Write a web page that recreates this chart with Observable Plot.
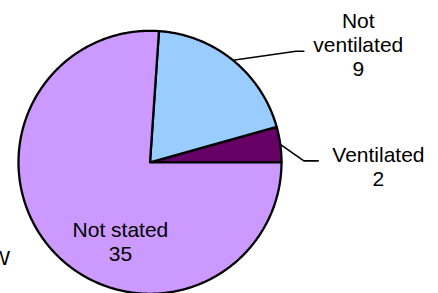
<!DOCTYPE html>
<html><head><meta charset="utf-8">
<script src="https://cdn.jsdelivr.net/npm/d3@7"></script>
<script src="https://cdn.jsdelivr.net/npm/@observablehq/plot@0.6"></script>
<style>body{margin:0;background:#fff}</style>
</head><body><div id="chart"></div>
<script>
// ---- data ----
const categories = ["Ventilated", "Not ventilated", "Not stated"];
const values = [2, 9, 35];
const stray = "W";

// ---- style / layout ----
const colors = ["#660066", "#99CCFF", "#CC99FF"];
// label block centres, in radii from the pie centre (x right, y up)
const labelPos = [[1.737, -0.03], [1.584, 0.90], [-0.225, -0.60]];
// leader-line elbows (radii), null = no leader
const leaders = [[[1.17, 0.011], [1.28, 0.011]], [[1.11, 0.844], [1.17, 0.844]], null];
const W = 438, H = 293, R = 131.5, CX = 149.5, CY = 161.8;

const total = d3.sum(values);
const cum = d3.cumsum(values);
const slices = categories.map((c, i) => {
  const a0 = 2 * Math.PI * (cum[i] - values[i]) / total;
  const a1 = 2 * Math.PI * cum[i] / total;
  const n = Math.max(2, Math.ceil((a1 - a0) / (Math.PI / 360)));
  const pts = [{x: 0, y: 0}];
  for (let k = 0; k <= n; ++k) {
    const a = a0 + (a1 - a0) * k / n;
    pts.push({x: Math.cos(a), y: Math.sin(a)});
  }
  pts.push({x: 0, y: 0});
  return {c, i, a0, a1, pts};
});

const marks = [];
slices.forEach(s => {
  marks.push(Plot.line(s.pts, {x: "x", y: "y", fill: colors[s.i], stroke: "black", strokeWidth: 2.3, strokeLinejoin: "round", curve: "linear"}));
});
slices.forEach(s => {
  if (!leaders[s.i]) return;
  const m = (s.a0 + s.a1) / 2;
  const pts = [{x: Math.cos(m), y: Math.sin(m)}, ...leaders[s.i].map(([x, y]) => ({x, y}))];
  marks.push(Plot.line(pts, {x: "x", y: "y", stroke: "black", strokeWidth: 1.6}));
});
const labels = slices.map(s => ({x: labelPos[s.i][0], y: labelPos[s.i][1], text: s.c + "\n" + values[s.i]}));
marks.push(Plot.text(labels, {x: "x", y: "y", text: d => d.text.replace("Not ventilated", "Not\nventilated"), fontSize: 21, fontFamily: "Liberation Sans, Arial, sans-serif", lineAnchor: "middle", lineHeight: 1.14, fill: "black"}));
marks.push(Plot.text([stray], {x: 9.5 / R - CX / R, y: (CY - 258) / R, text: d => d, textAnchor: "end", fontSize: 21, fontFamily: "Liberation Sans, Arial, sans-serif", fill: "black"}));

const chart = Plot.plot({
  width: W, height: H,
  margin: 0,
  x: {domain: [-CX / R, (W - CX) / R], axis: null},
  y: {domain: [-(H - CY) / R, CY / R], axis: null},
  style: {overflow: "visible", background: "white"},
  marks
});
document.getElementById("chart").appendChild(chart);
</script>
</body></html>
